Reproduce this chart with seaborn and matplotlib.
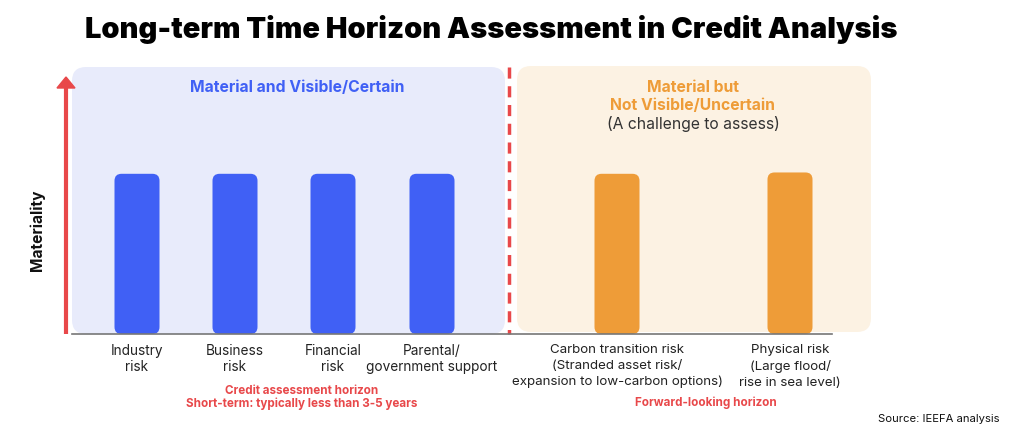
import matplotlib
matplotlib.use("Agg")
import matplotlib.pyplot as plt
import seaborn as sns
from matplotlib.patches import FancyBboxPatch
from matplotlib.lines import Line2D

# ---- data ----
categories = [
    "Industry\nrisk",
    "Business\nrisk",
    "Financial\nrisk",
    "Parental/\ngovernment support",
    "Carbon transition risk\n(Stranded asset risk/\nexpansion to low-carbon options)",
    "Physical risk\n(Large flood/\nrise in sea level)",
]
materiality = [60, 60, 60, 60, 60, 60.5]
group = ["visible"] * 4 + ["uncertain"] * 2

# ---- layout (pixel positions) ----
x_pos = [137, 235, 333, 432, 617, 790]

BLUE = "#4060F5"
BLUE_BG = "#E8EBFB"
ORANGE = "#EE9C38"
ORANGE_BG = "#FCF2E3"
RED = "#E8484A"
TXT = "#222222"

sns.set_theme(style="white")
plt.rcParams["font.family"] = ["Inter", "DejaVu Sans"]

W, H = 1024, 440
fig = plt.figure(figsize=(W / 100, H / 100), dpi=100)

bg = fig.add_axes([0, 0, 1, 1], zorder=0)
bg.set_xlim(0, W)
bg.set_ylim(H, 0)
bg.axis("off")

# panels
bg.add_patch(FancyBboxPatch((72, 67), 433, 267, boxstyle="round,pad=0,rounding_size=14",
                            facecolor=BLUE_BG, edgecolor="none"))
bg.add_patch(FancyBboxPatch((517, 66), 354, 266, boxstyle="round,pad=0,rounding_size=14",
                            facecolor=ORANGE_BG, edgecolor="none"))
# dashed divider
bg.add_line(Line2D([509, 509], [67, 334], color=RED, lw=2.5, dashes=(3.2, 2.2)))
# materiality arrow
bg.add_line(Line2D([66, 66], [334, 88], color=RED, lw=3, solid_capstyle="butt"))
bg.add_patch(plt.Polygon([[57, 88], [75, 88], [66, 77]], closed=True, color=RED))

# main axes
ax_left, ax_right, ax_top, ax_bot = 72, 832, 67, 334
ax = fig.add_axes([ax_left / W, (H - ax_bot) / H, (ax_right - ax_left) / W, (ax_bot - ax_top) / H],
                  zorder=1)
ax.set_facecolor("none")
sns.barplot(x=x_pos, y=materiality, hue=group, palette={"visible": BLUE, "uncertain": ORANGE},
            native_scale=True, width=45 / 98, dodge=False, legend=False, ax=ax,
            saturation=1, edgecolor="none")
ax.set_xlim(ax_left, ax_right)
ax.set_ylim(0, 100)

# round bar corners
y_per_px = 100 / (ax_bot - ax_top)
for p in list(ax.patches):
    x0, y0, w, h = p.get_x(), p.get_y(), p.get_width(), p.get_height()
    fc = p.get_facecolor()
    p.remove()
    ax.add_patch(FancyBboxPatch((x0, y0), w, h, boxstyle="round,pad=0,rounding_size=7",
                                mutation_aspect=y_per_px, facecolor=fc, edgecolor="none"))

ax.set_xticks(x_pos)
ax.set_xticklabels(categories, fontsize=9.8, color=TXT, linespacing=1.25)
for lbl, g in zip(ax.get_xticklabels(), group):
    if g == "uncertain":
        lbl.set_fontsize(9.6)
        lbl.set_linespacing(1.42)
ax.tick_params(axis="x", length=0, pad=7)
ax.set_yticks([])
ax.set_xlabel("")
ax.set_ylabel("")
for s in ["top", "left", "right"]:
    ax.spines[s].set_visible(False)
ax.spines["bottom"].set_color("#777777")
ax.spines["bottom"].set_linewidth(1.2)

# texts
bg.text(491, 30, "Long-term Time Horizon Assessment in Credit Analysis", ha="center", va="center",
        fontsize=20.9, fontweight="black", color="#000000")
bg.text(37, 230, "Materiality", rotation=90, ha="center", va="center", fontsize=11.2,
        fontweight="bold", color="#111111")
bg.text(297, 87, "Material and Visible/Certain", ha="center", va="center", fontsize=11.3,
        fontweight="bold", color=BLUE)
bg.text(693, 87, "Material but", ha="center", va="center", fontsize=11.3, fontweight="bold", color=ORANGE)
bg.text(693, 105, "Not Visible/Uncertain", ha="center", va="center", fontsize=11.3, fontweight="bold",
        color=ORANGE)
bg.text(693, 124, "(A challenge to assess)", ha="center", va="center", fontsize=11.3, color="#333333")
bg.text(302, 391, "Credit assessment horizon", ha="center", va="center", fontsize=8.4,
        fontweight="bold", color=RED)
bg.text(302, 404, "Short-term: typically less than 3-5 years", ha="center", va="center", fontsize=8.4,
        fontweight="bold", color=RED)
bg.text(706, 403, "Forward-looking horizon", ha="center", va="center", fontsize=8.4,
        fontweight="bold", color=RED)
bg.text(999, 419, "Source: IEEFA analysis", ha="right", va="center", fontsize=8.1, color="#111111")

fig.savefig("out.png", dpi=100)
